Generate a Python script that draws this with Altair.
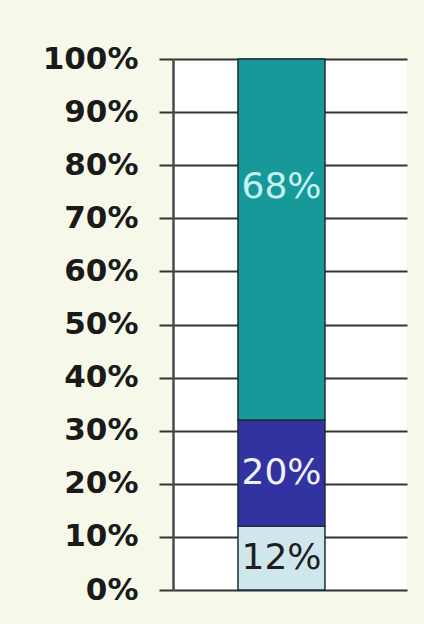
import altair as alt
import pandas as pd

# Data
segments = ["Segment 1", "Segment 2", "Segment 3"]
shares = [0.12, 0.20, 0.68]
stack_order = [0, 1, 2]
fill_colors = ["#cfe7ec", "#3232a0", "#17999a"]
label_colors = ["#1e1e1e", "#f2f2ff", "#c6f2f2"]
tick_values = [0.0, 0.1, 0.2, 0.3, 0.4, 0.5, 0.6, 0.7, 0.8, 0.9, 1.0]

df = pd.DataFrame({
    "bar": ["All"] * len(segments),
    "segment": segments,
    "share": shares,
    "order": stack_order,
})

base = alt.Chart(df).transform_stack(
    stack="share",
    as_=["y0", "y1"],
    groupby=["bar"],
    sort=[alt.SortField("order")],
).transform_calculate(
    mid="(datum.y0 + datum.y1) / 2",
    label="format(datum.share, '.0%')",
)

x_enc = alt.X(
    "bar:N",
    axis=None,
    scale=alt.Scale(paddingInner=0, paddingOuter=0.845, align=0.442),
)

y_axis = alt.Axis(
    values=tick_values,
    format=".0%",
    title=None,
    labelFont="DejaVu Sans",
    labelFontWeight="bold",
    labelFontSize=31,
    labelColor="#1a1a1a",
    labelPadding=21,
    tickSize=14,
    tickColor="#333333",
    tickWidth=2,
    domainColor="#4a4a4a",
    domainWidth=2.5,
    grid=True,
    gridColor="#333333",
    gridWidth=2,
)

bars = base.mark_bar(stroke="#1d2c38", strokeWidth=1.5).encode(
    x=x_enc,
    y=alt.Y("y0:Q", scale=alt.Scale(domain=[0, 1]), axis=y_axis),
    y2="y1:Q",
    color=alt.Color(
        "segment:N",
        scale=alt.Scale(domain=segments, range=fill_colors),
        legend=None,
    ),
)

text_color = alt.Color(
    "segment:N",
    scale=alt.Scale(domain=segments, range=label_colors),
    legend=None,
)

labels_low = base.transform_filter("datum.order < 2").mark_text(
    font="DejaVu Sans", fontSize=36, baseline="middle", align="center"
).encode(x=x_enc, y=alt.Y("mid:Q"), text="label:N", color=text_color)

labels_top = base.transform_filter("datum.order == 2").mark_text(
    font="DejaVu Sans", fontSize=36, baseline="middle", align="center", dy=-53
).encode(x=x_enc, y=alt.Y("mid:Q"), text="label:N", color=text_color)

chart = alt.layer(bars, labels_low, labels_top).resolve_scale(
    color="independent"
).properties(
    width=234,
    height=531,
    autosize=alt.AutoSizeParams(type="none"),
    padding={"left": 173, "top": 59, "right": 17, "bottom": 34},
    background="#f6f9e9",
).configure_view(fill="white", stroke=None)

chart.save("out.html", embed_options={"renderer": "svg", "actions": False})
